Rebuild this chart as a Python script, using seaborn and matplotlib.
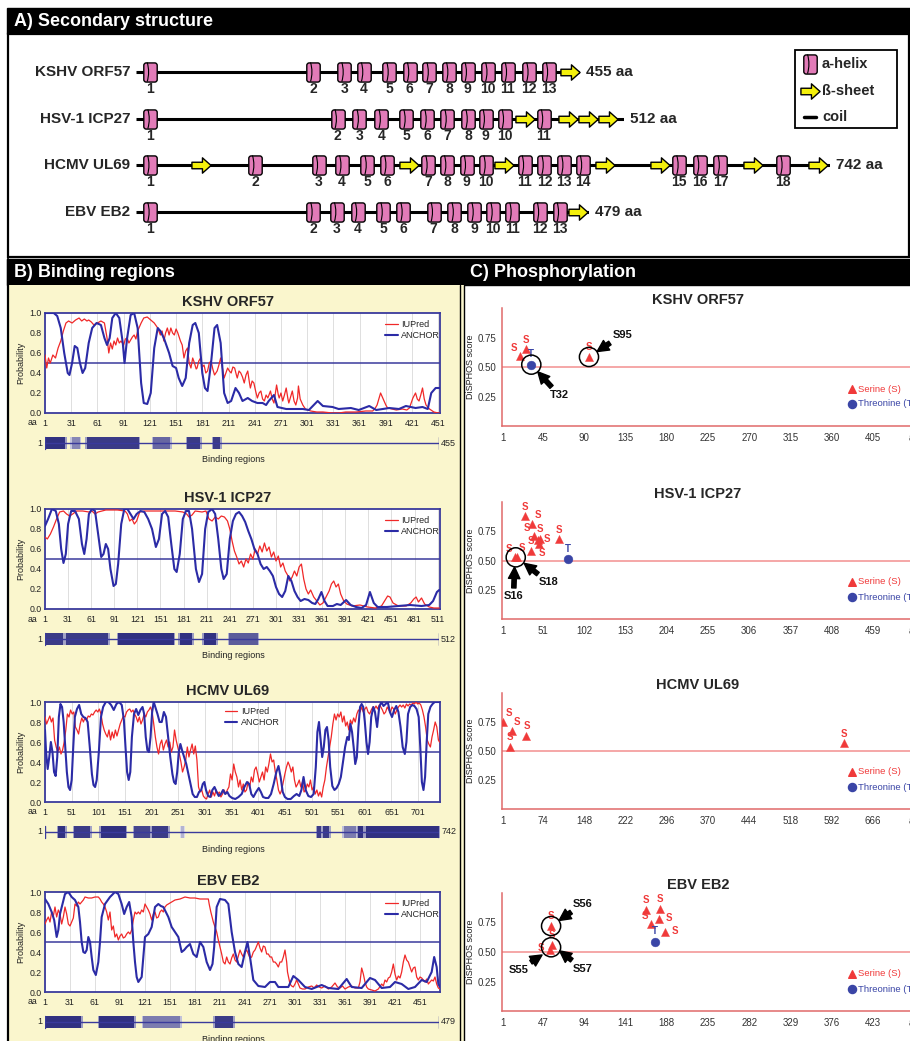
import matplotlib
matplotlib.use("Agg")
import matplotlib.pyplot as plt
import seaborn as sns
from matplotlib.path import Path
from matplotlib.patches import Rectangle

# ---------------------------------------------------------------- data
PROTEINS = ["KSHV ORF57", "HSV-1 ICP27", "HCMV UL69", "EBV EB2"]
LENGTHS = [455, 512, 742, 479]

# secondary structure elements (residue positions)
KSHV_HELICES = [15, 182, 214, 234, 260, 281, 301, 321, 340, 361, 381, 403, 423]
KSHV_SHEETS = [445]
HSV_HELICES = [16, 212, 235, 258, 284, 306, 327, 349, 367, 387, 428]
HSV_SHEETS = [408, 453, 474, 495]
HCMV_HELICES = [16, 128, 196, 221, 248, 269, 313, 333, 354, 375, 416, 437, 458, 478,
                581, 603, 625, 692]
HCMV_SHEETS = [70, 293, 394, 502, 561, 660, 729]
EBV_HELICES = [16, 188, 213, 235, 262, 283, 315, 337, 358, 378, 398, 427, 448]
EBV_SHEETS = [467]

# IUPred / ANCHOR profiles: (residue, probability)
KSHV_IUPRED = [(1,.58),(3,.45),(5,.55),(7,.50),(10,.58),(13,.55),(16,.65),(19,.72),(22,.82),(25,.90),(28,.92),(32,.90),(36,.93),(40,.95),(43,.92),(46,.94),(49,.92),(51,.93),(54,.91),(57,.88),(61,.90),(65,.92),(69,.90),(72,.75),(74,.60),(76,.70),(78,.64),(80,.72),(82,.68),(84,.75),(86,.70),(88,.72),(91,.68),(93,.74),(95,.75),(97,.70),(99,.73),(101,.76),(103,.78),(105,.74),(107,.82),(111,.90),(114,.95),(118,.96),(122,.93),(126,.90),(130,.85),(133,.78),(135,.82),(137,.72),(139,.80),(141,.85),(143,.78),(145,.85),(147,.80),(149,.78),(151,.84),(153,.80),(156,.72),(158,.68),(160,.55),(162,.62),(164,.65),(166,.50),(168,.45),(170,.55),(172,.50),(174,.44),(175,.45),(177,.52),(179,.55),(181,.46),(183,.48),(185,.40),(187,.42),(189,.50),(191,.52),(193,.44),(195,.38),(198,.42),(200,.48),(202,.55),(204,.45),(206,.35),(208,.40),(210,.45),(212,.42),(214,.40),(216,.46),(218,.45),(220,.38),(221,.35),(223,.42),(225,.40),(227,.36),(229,.30),(231,.38),(233,.42),(235,.30),(236,.25),(238,.32),(240,.30),(242,.22),(244,.15),(246,.20),(248,.22),(250,.14),(252,.12),(254,.18),(256,.15),(259,.22),(261,.14),(263,.10),(266,.28),(268,.18),(269,.15),(271,.20),(273,.12),(275,.18),(277,.25),(279,.14),(280,.10),(282,.16),(284,.22),(286,.12),(288,.08),(290,.15),(291,.27),(293,.14),(296,.08),(299,.04),(302,.03),(305,.02),(312,.01),(319,.01),(330,.0),(337,.0),(345,.01),(357,.01),(368,.02),(376,.02),(379,.05),(381,.08),(383,.14),(385,.20),(387,.16),(389,.12),(391,.08),(393,.05),(398,.04),(403,.03),(410,.04),(415,.03),(418,.05),(420,.10),(422,.15),(425,.20),(427,.14),(429,.12),(431,.18),(433,.25),(435,.14),(437,.08),(441,.04),(446,.01),(451,.0),(454,.0)]
KSHV_ANCHOR = [(1,1.0),(11,1.0),(15,.97),(19,.85),(23,.60),(27,.40),(29,.38),(32,.50),(35,.67),(38,.65),(41,.50),(44,.40),(47,.45),(51,.70),(55,.85),(60,.90),(65,.88),(69,.75),(72,.68),(75,.75),(78,.95),(82,1.0),(86,.95),(90,.70),(92,.50),(95,.75),(99,.98),(103,1.0),(107,.85),(111,.30),(114,.10),(118,.09),(122,.20),(126,.65),(130,.85),(133,.82),(137,.75),(143,.60),(147,.47),(151,.45),(154,.35),(158,.27),(162,.35),(166,.70),(170,.88),(173,.90),(177,.80),(181,.40),(184,.25),(187,.22),(191,.50),(195,.85),(198,.88),(202,.70),(206,.20),(210,.10),(214,.12),(219,.25),(223,.20),(227,.12),(233,.15),(238,.12),(244,.10),(250,.10),(254,.08),(257,.12),(263,.18),(267,.06),(277,.04),(296,.04),(303,.03),(313,.12),(319,.07),(330,.06),(337,.04),(351,.05),(360,.03),(372,.07),(380,.03),(395,.05),(406,.04),(414,.07),(425,.05),(433,.06),(439,.04),(443,.20),(448,.25),(454,.25)]

HSV_IUPRED = [(1,.72),(4,.70),(8,.75),(12,.82),(16,.90),(20,.97),(25,.98),(29,.95),(33,.93),(37,.95),(42,.98),(50,.98),(58,.97),(62,.98),(66,.95),(70,.97),(80,.99),(95,.99),(105,.98),(108,.95),(111,.88),(114,.90),(117,.85),(120,.88),(124,.97),(130,.98),(150,.98),(170,.98),(180,.97),(185,.95),(188,.92),(192,.94),(196,.98),(205,.97),(210,.98),(214,.90),(218,.88),(222,.92),(226,.90),(230,.93),(234,.92),(238,.88),(241,.80),(244,.68),(247,.58),(250,.52),(253,.45),(256,.48),(259,.42),(262,.50),(265,.46),(268,.55),(271,.50),(274,.60),(277,.55),(280,.63),(283,.57),(286,.66),(289,.58),(292,.62),(295,.52),(298,.57),(301,.48),(304,.53),(307,.42),(310,.46),(313,.38),(316,.34),(319,.28),(322,.32),(325,.38),(328,.33),(331,.42),(334,.45),(337,.30),(340,.20),(343,.15),(346,.19),(350,.12),(354,.08),(358,.04),(362,.06),(366,.12),(370,.18),(373,.25),(376,.28),(379,.22),(382,.25),(385,.15),(389,.08),(393,.05),(400,.03),(410,.04),(420,.02),(430,.01),(438,.03),(442,.08),(446,.13),(449,.12),(453,.06),(460,.03),(470,.03),(476,.06),(480,.10),(483,.12),(486,.07),(490,.11),(494,.05),(500,.02),(506,.01),(513,.01)]
HSV_ANCHOR = [(1,.83),(5,.90),(10,1.0),(15,.98),(19,.85),(22,.60),(25,.46),(28,.55),(31,.85),(35,.98),(40,.98),(45,.90),(49,.65),(52,.55),(55,.70),(58,.95),(62,1.0),(66,.98),(70,.75),(74,.52),(77,.55),(80,.65),(83,.60),(86,.40),(90,.23),(93,.25),(96,.45),(100,.85),(104,1.0),(108,1.0),(112,.95),(116,.90),(120,.95),(125,.98),(130,.97),(135,.90),(140,.80),(145,.62),(149,.70),(153,.95),(157,.98),(161,.92),(165,.65),(169,.40),(172,.37),(176,.55),(180,.90),(184,.98),(188,.98),(192,.80),(197,.40),(201,.27),(205,.35),(209,.80),(213,.97),(218,1.0),(222,.95),(226,.70),(230,.40),(233,.30),(237,.35),(241,.70),(245,.88),(249,.95),(253,.97),(257,.93),(261,.87),(265,.78),(269,.70),(273,.60),(277,.55),(281,.45),(285,.40),(289,.42),(293,.38),(297,.33),(301,.22),(305,.15),(309,.12),(313,.18),(317,.33),(321,.28),(325,.18),(329,.12),(333,.08),(338,.10),(343,.09),(348,.06),(352,.05),(356,.10),(360,.17),(364,.08),(368,.03),(375,.03),(380,.05),(385,.04),(392,.09),(398,.04),(405,.02),(412,.01),(418,.04),(423,.17),(428,.06),(433,.02),(445,.02),(460,.03),(475,.04),(490,.03),(500,.04),(505,.08),(510,.17),(513,.19)]

HCMV_IUPRED = [(1,.85),(4,.78),(7,.82),(10,.86),(13,.80),(16,.84),(19,.62),(22,.55),(25,.50),(28,.55),(31,.48),(34,.52),(37,.60),(40,.72),(43,.88),(46,.85),(49,.92),(52,.88),(55,.90),(58,.75),(61,.72),(64,.68),(67,.78),(70,.84),(73,.80),(76,.84),(79,.82),(82,.86),(85,.85),(88,.88),(91,.87),(94,.90),(97,.92),(100,.90),(103,.93),(106,.88),(109,.78),(112,.72),(115,.68),(118,.65),(121,.72),(124,.62),(127,.70),(130,.64),(133,.72),(136,.66),(139,.72),(142,.78),(145,.82),(148,.86),(151,.85),(154,.90),(157,.92),(160,.93),(163,.90),(166,.92),(169,.88),(172,.85),(175,.80),(178,.85),(181,.78),(184,.82),(187,.88),(190,.85),(193,.90),(196,.92),(199,.95),(202,.90),(205,.78),(208,.65),(211,.55),(214,.48),(217,.58),(220,.62),(223,.52),(226,.58),(229,.62),(232,.55),(235,.60),(238,.50),(241,.55),(244,.72),(247,.62),(250,.55),(253,.48),(256,.40),(259,.30),(262,.35),(265,.42),(268,.55),(271,.45),(274,.52),(277,.58),(280,.48),(283,.56),(286,.42),(289,.15),(292,.10),(295,.12),(298,.06),(301,.04),(304,.03),(307,.08),(310,.12),(313,.05),(316,.10),(319,.06),(322,.12),(325,.08),(328,.10),(331,.05),(334,.08),(337,.12),(340,.08),(343,.12),(346,.15),(349,.28),(352,.22),(355,.38),(358,.30),(361,.25),(364,.15),(367,.22),(370,.12),(373,.18),(376,.10),(379,.12),(382,.20),(385,.15),(388,.25),(391,.20),(394,.32),(397,.35),(400,.28),(403,.20),(406,.25),(409,.30),(412,.22),(415,.35),(418,.30),(421,.38),(424,.48),(427,.40),(430,.42),(433,.30),(436,.22),(439,.12),(442,.08),(445,.12),(448,.20),(451,.28),(454,.35),(457,.40),(460,.36),(463,.30),(466,.35),(469,.22),(472,.15),(475,.18),(478,.22),(481,.15),(484,.20),(487,.10),(490,.12),(493,.18),(496,.15),(499,.22),(502,.12),(505,.15),(508,.08),(511,.12),(514,.06),(517,.10),(520,.05),(523,.15),(526,.22),(529,.35),(532,.45),(535,.55),(538,.65),(541,.78),(544,.88),(547,.82),(550,.88),(553,.85),(556,.90),(559,.80),(562,.86),(565,.76),(568,.80),(571,.72),(574,.82),(577,.78),(580,.84),(583,.80),(586,.88),(589,.92),(592,.90),(595,.95),(598,.90),(601,.93),(604,.95),(607,.90),(610,.88),(613,.92),(616,.95),(619,.93),(622,.96),(625,.93),(628,.97),(631,.95),(634,.92),(637,.88),(640,.90),(643,.95),(646,.92),(649,.90),(652,.95),(655,.93),(658,.88),(661,.92),(664,.95),(667,.97),(670,.95),(673,.97),(676,.94),(679,.98),(682,.96),(685,.98),(688,.97),(691,.99),(694,.98),(697,1.0),(700,.98),(703,.99),(706,.97),(709,.92),(712,.85),(715,.75),(718,.62),(721,.58),(724,.55),(727,.65),(730,.72),(733,.80),(736,.75),(739,.62),(741,.60)]
HCMV_ANCHOR = [(1,.72),(3,.50),(6,.33),(9,.45),(12,.60),(15,.50),(18,.30),(21,.26),(24,.45),(27,.85),(30,.98),(33,.95),(36,.80),(39,.55),(42,.30),(45,.15),(48,.12),(51,.22),(54,.55),(57,.85),(61,.93),(65,.97),(69,.88),(73,.85),(77,.84),(81,.80),(85,.55),(89,.28),(92,.17),(95,.15),(98,.22),(102,.50),(106,.85),(110,.95),(115,1.0),(120,1.0),(125,.97),(130,.92),(135,.98),(140,1.0),(145,.97),(149,.82),(152,.55),(155,.30),(158,.22),(161,.30),(164,.65),(168,.88),(172,.93),(176,.87),(180,.92),(184,.95),(187,.88),(190,.65),(193,.52),(196,.50),(199,.65),(202,.90),(205,1.0),(208,.95),(212,.88),(216,.80),(220,.80),(224,.90),(228,.85),(232,.65),(236,.45),(240,.28),(243,.20),(246,.18),(249,.30),(252,.50),(255,.58),(258,.52),(262,.45),(266,.38),(270,.28),(274,.18),(278,.08),(282,.05),(286,.05),(290,.10),(294,.12),(297,.18),(300,.20),(303,.12),(307,.06),(311,.05),(315,.12),(319,.15),(323,.10),(327,.06),(331,.08),(335,.12),(339,.08),(343,.10),(347,.06),(352,.04),(358,.03),(364,.05),(370,.08),(375,.15),(380,.20),(384,.18),(388,.08),(392,.05),(397,.10),(402,.14),(406,.10),(410,.05),(415,.04),(420,.04),(425,.08),(430,.18),(435,.30),(439,.36),(443,.25),(447,.10),(451,.05),(456,.03),(462,.03),(468,.06),(473,.08),(478,.06),(482,.12),(486,.25),(490,.12),(495,.06),(500,.05),(505,.08),(509,.35),(512,.70),(515,.80),(518,.62),(521,.45),(524,.55),(527,.72),(530,.75),(533,.62),(536,.35),(540,.16),(544,.12),(548,.14),(552,.18),(556,.25),(560,.40),(564,.55),(568,.65),(571,.62),(574,.78),(577,.70),(580,.55),(583,.38),(586,.45),(589,.75),(592,.95),(595,.98),(598,.95),(601,.80),(604,.60),(607,.48),(610,.60),(613,.85),(617,.95),(620,.90),(624,.75),(628,.95),(632,1.0),(636,.96),(640,.98),(644,1.0),(648,.90),(652,.85),(656,.92),(660,.96),(664,.90),(668,.75),(672,.55),(676,.48),(679,.60),(682,.88),(686,.95),(690,.97),(694,.96),(698,.93),(702,.85),(705,.55),(708,.20),(711,.12),(714,.25),(717,.60),(720,.88),(724,.95),(728,.98),(732,1.0),(742,1.0)]

EBV_IUPRED = [(1,.68),(3,.72),(5,.75),(7,.70),(9,.80),(11,.76),(13,.85),(15,.75),(17,.82),(19,.78),(21,.68),(23,.75),(25,.85),(27,.78),(29,.68),(31,.66),(33,.70),(35,.74),(37,.88),(39,.86),(41,.90),(43,.88),(45,.90),(47,.92),(49,.95),(53,.94),(57,.94),(61,.95),(65,.95),(67,.93),(69,.90),(71,.88),(73,.85),(75,.80),(77,.72),(79,.80),(81,.62),(83,.66),(85,.55),(87,.58),(89,.52),(91,.56),(93,.58),(95,.54),(97,.55),(99,.58),(101,.60),(103,.58),(105,.62),(107,.72),(109,.80),(111,.78),(113,.80),(115,.78),(117,.82),(119,.80),(121,.88),(123,.85),(125,.82),(127,.78),(129,.72),(131,.78),(133,.80),(135,.74),(137,.75),(139,.80),(141,.82),(143,.80),(145,.85),(147,.87),(149,.88),(153,.90),(157,.92),(163,.93),(169,.95),(175,.94),(181,.94),(187,.93),(193,.93),(197,.93),(198,.88),(200,.80),(203,.70),(207,.60),(209,.52),(211,.45),(213,.38),(215,.30),(217,.28),(219,.35),(221,.30),(223,.28),(225,.34),(227,.38),(229,.32),(231,.30),(233,.36),(235,.42),(237,.38),(239,.35),(241,.40),(243,.42),(245,.38),(247,.34),(249,.35),(251,.40),(253,.42),(255,.46),(257,.50),(259,.44),(261,.40),(263,.46),(265,.45),(267,.38),(269,.38),(271,.35),(273,.35),(275,.30),(277,.30),(279,.28),(281,.25),(283,.30),(285,.30),(287,.35),(289,.42),(291,.30),(292,.20),(295,.08),(297,.06),(299,.05),(301,.08),(303,.12),(305,.08),(307,.04),(310,.03),(313,.03),(317,.05),(321,.06),(324,.04),(327,.07),(330,.05),(333,.04),(337,.06),(341,.03),(345,.05),(349,.09),(352,.05),(355,.04),(358,.06),(361,.03),(365,.05),(369,.06),(373,.04),(377,.04),(379,.10),(381,.24),(383,.18),(385,.10),(387,.05),(389,.03),(393,.02),(397,.01),(401,.03),(405,.08),(407,.06),(409,.12),(411,.10),(413,.14),(415,.15),(417,.20),(419,.28),(421,.18),(423,.12),(425,.16),(427,.14),(429,.20),(431,.30),(433,.37),(435,.32),(437,.30),(439,.25),(441,.20),(443,.24),(445,.25),(447,.15),(449,.12),(451,.15),(453,.14),(455,.12),(457,.10),(459,.13),(461,.08),(463,.10),(465,.12),(467,.11),(469,.15),(471,.08),(473,.04),(475,.03)]
EBV_ANCHOR = [(1,.93),(5,.88),(9,.80),(12,.72),(15,.55),(17,.62),(19,.78),(22,.88),(25,.98),(29,1.0),(33,.95),(37,.92),(41,.85),(43,.70),(45,.50),(47,.40),(49,.39),(51,.42),(53,.55),(55,.50),(57,.35),(59,.22),(62,.17),(65,.30),(67,.50),(69,.75),(73,.88),(79,.95),(85,1.0),(89,.98),(93,.88),(96,.78),(99,.85),(102,.90),(105,.75),(107,.50),(109,.30),(111,.15),(113,.10),(117,.15),(119,.35),(121,.55),(125,.58),(129,.65),(133,.85),(137,.88),(140,.86),(143,.85),(146,.80),(149,.75),(153,.65),(157,.60),(161,.55),(165,.40),(168,.42),(171,.45),(175,.48),(179,.38),(183,.35),(187,.50),(191,.45),(195,.30),(199,.22),(202,.28),(204,.45),(207,.85),(211,.93),(217,.92),(221,.88),(225,.60),(229,.40),(233,.28),(237,.25),(241,.40),(244,.50),(247,.35),(251,.12),(257,.06),(265,.05),(271,.10),(277,.10),(281,.05),(293,.05),(299,.16),(305,.12),(313,.05),(321,.03),(333,.07),(341,.04),(353,.03),(363,.13),(369,.05),(381,.04),(391,.14),(397,.12),(405,.04),(415,.05),(421,.10),(429,.08),(437,.03),(445,.05),(453,.12),(459,.10),(465,.20),(468,.35),(471,.25),(473,.08),(475,.05)]

# predicted binding regions: (start, end, density)
KSHV_BINDING = [(1, 24, .95), (32, 41, .55), (49, 109, .9), (126, 145, .7), (165, 180, .9), (195, 203, .9)]
HSV_BINDING = [(1, 24, .9), (28, 83, .9), (96, 168, .95), (176, 192, .95), (207, 223, .95), (240, 277, .75)]
HCMV_BINDING = [(26, 39, .95), (56, 86, .9), (106, 153, .95), (169, 199, .85), (202, 233, .9),
                (257, 262, .35), (513, 520, .9), (524, 535, .9), (563, 585, .6), (590, 600, .95),
                (604, 742, .95)]
EBV_BINDING = [(1, 45, .95), (67, 109, .95), (120, 165, .6), (207, 229, .9)]

# DiSPHOS predictions: (residue, score)
KSHV_SER = [(20, .59), (26, .65), (95, .585)]
KSHV_THR = [(32, .52)]
HSV_SER = [(29, .877), (37.5, .815), (39, .71), (44, .674), (47, .688), (36, .58), (45.5, .645),
           (71, .68), (16, .527), (18, .527)]
HSV_THR = [(82, .51)]
HCMV_SER = [(2.4, .75), (14.4, .535), (17.4, .67), (44, .63), (614, .565)]
HCMV_THR = []
EBV_SER = [(55, .52), (56, .72), (57, .56), (164, .857), (180, .863), (170, .735), (179, .78), (186.5, .67)]
EBV_THR = [(174, .587)]

# highlighted sites
KSHV_SITES = [("T32", 32, .52), ("S95", 95, .585)]
HSV_SITES = [("S16", 16, .527), ("S18", 18, .527)]
HCMV_SITES = []
EBV_SITES = [("S56", 56, .72), ("S55", 55, .52), ("S57", 57, .56)]

# ---------------------------------------------------------------- styling
W, H, DPI = 910, 1041, 100
PINK = "#e27bb8"
SHEET_YELLOW = "#f4f00c"
PANEL_YELLOW = "#faf6cd"
IU_RED = "#f02828"
ANCHOR_BLUE = "#2b2ba6"
FRAME_BLUE = "#3a3a9c"
SER_RED = "#f03a3a"
THR_BLUE = "#3a45a6"
AXIS_RED = "#e06a6a"
LINE_RED = "#f29090"

sns.set_theme(style="white")
plt.rcParams["font.family"] = ["Liberation Sans", "DejaVu Sans"]

fig = plt.figure(figsize=(W / DPI, H / DPI), dpi=DPI)
fig.patch.set_facecolor("white")


def px_axes(x0, y0, x1, y1):
    """Axes placed by pixel box (origin top-left)."""
    return fig.add_axes([x0 / W, 1 - y1 / H, (x1 - x0) / W, (y1 - y0) / H])


# glyphs for secondary-structure elements
_hw, _hh, _r = 0.35, 0.5, 0.13
HELIX = Path(
    [(-_hw + _r, -_hh), (_hw - _r, -_hh), (_hw, -_hh), (_hw, -_hh + _r), (_hw, _hh - _r),
     (_hw, _hh), (_hw - _r, _hh), (-_hw + _r, _hh), (-_hw, _hh), (-_hw, _hh - _r),
     (-_hw, -_hh + _r), (-_hw, -_hh), (-_hw + _r, -_hh), (0, 0)],
    [Path.MOVETO, Path.LINETO, Path.CURVE3, Path.CURVE3, Path.LINETO, Path.CURVE3, Path.CURVE3,
     Path.LINETO, Path.CURVE3, Path.CURVE3, Path.LINETO, Path.CURVE3, Path.CURVE3, Path.CLOSEPOLY])
HELIX_RIM = Path([(-0.13, -0.5), (0.02, 0.0), (-0.13, 0.5)],
                 [Path.MOVETO, Path.CURVE3, Path.CURVE3])
SHEET = Path([(-0.5, -0.17), (0.05, -0.17), (0.05, -0.4), (0.5, 0), (0.05, 0.4), (0.05, 0.17),
              (-0.5, 0.17), (-0.5, -0.17)],
             [Path.MOVETO] + [Path.LINETO] * 6 + [Path.CLOSEPOLY])
GLYPH_S = 190


def draw_helices(ax, xs, ys):
    ax.scatter(xs, ys, marker=HELIX, s=GLYPH_S, facecolor=PINK, edgecolor="black",
               linewidth=1.0, zorder=3, clip_on=False)
    ax.scatter(xs, ys, marker=HELIX_RIM, s=GLYPH_S, facecolor="none", edgecolor="black",
               linewidth=0.8, zorder=4, clip_on=False)


def draw_sheets(ax, xs, ys):
    ax.scatter(xs, ys, marker=SHEET, s=GLYPH_S, facecolor=SHEET_YELLOW, edgecolor="black",
               linewidth=1.0, zorder=3, clip_on=False)


# ---------------------------------------------------------------- frame
canvas = px_axes(0, 0, W, H)
canvas.set_xlim(0, W)
canvas.set_ylim(H, 0)
canvas.axis("off")

canvas.add_patch(Rectangle((7, 8), W - 7, 26, color="black"))
canvas.text(14, 21.5, "A) Secondary structure", color="white", fontsize=13,
            fontweight="bold", va="center")
canvas.add_patch(Rectangle((8, 34), 901, 223, facecolor="white", edgecolor="black", lw=1.6))

canvas.add_patch(Rectangle((7, 259), W - 7, 26, color="black"))
canvas.text(14, 272.5, "B) Binding regions", color="white", fontsize=13,
            fontweight="bold", va="center")
canvas.text(470, 272.5, "C) Phosphorylation", color="white", fontsize=13,
            fontweight="bold", va="center")
canvas.add_patch(Rectangle((8.5, 285), 451, H - 285, facecolor=PANEL_YELLOW, edgecolor="none"))
canvas.add_patch(Rectangle((459.5, 285), 4, H - 285, facecolor=PANEL_YELLOW, edgecolor="none"))
canvas.plot([8, 8], [259, H], color="black", lw=1.6)
canvas.plot([459.5, 459.5], [285, H], color="black", lw=1.0)
canvas.plot([463.5, 463.5], [285, H], color="black", lw=1.0)

# ---------------------------------------------------------------- A) secondary structure
ROW_Y = [72, 119, 165, 212]
ROW_END = [580, 624, 830, 589]
ROW_START = 136
helix_sets = [KSHV_HELICES, HSV_HELICES, HCMV_HELICES, EBV_HELICES]
sheet_sets = [KSHV_SHEETS, HSV_SHEETS, HCMV_SHEETS, EBV_SHEETS]

for name, length, helices, sheets, y, x_end in zip(PROTEINS, LENGTHS, helix_sets, sheet_sets,
                                                     ROW_Y, ROW_END):
    ax = px_axes(ROW_START, y - 22, x_end, y + 22)
    ax.set_xlim(1, length)
    ax.set_ylim(-1, 1)
    ax.axis("off")
    ax.plot([1, length], [0, 0], color="black", lw=2.2, solid_capstyle="butt", zorder=1)
    draw_helices(ax, helices, [0] * len(helices))
    draw_sheets(ax, sheets, [0] * len(sheets))
    for k, a in enumerate(helices, start=1):
        ax.annotate(str(k), (a, 0), xytext=(0, -12.5), textcoords="offset points",
                    ha="center", va="center", fontsize=10, fontweight="bold",
                    annotation_clip=False)
    ax.annotate(name, (1, 0), xytext=(-4, 0), textcoords="offset points", ha="right",
                va="center", fontsize=11, fontweight="bold", annotation_clip=False)
    ax.annotate(f"{length} aa", (length, 0), xytext=(4.5, 0), textcoords="offset points",
                ha="left", va="center", fontsize=11, fontweight="bold", annotation_clip=False)

# legend box
canvas.add_patch(Rectangle((795, 50), 102, 78, facecolor="white", edgecolor="black", lw=1.3))
draw_helices(canvas, [810], [64])
draw_sheets(canvas, [810], [91])
canvas.plot([804, 816], [117, 117], color="black", lw=2.5)
for yy, txt in zip([64, 91, 117], ["a-helix", "ß-sheet", "coil"]):
    canvas.text(822, yy, txt, fontsize=10.5, fontweight="bold", va="center")

# ---------------------------------------------------------------- B) binding regions
iupred_sets = [KSHV_IUPRED, HSV_IUPRED, HCMV_IUPRED, EBV_IUPRED]
anchor_sets = [KSHV_ANCHOR, HSV_ANCHOR, HCMV_ANCHOR, EBV_ANCHOR]
binding_sets = [KSHV_BINDING, HSV_BINDING, HCMV_BINDING, EBV_BINDING]
B_TOP = [313, 509, 702, 892]
B_XMAX = [453, 514, 742, 475]
B_TICKS = [range(1, 452, 30), range(1, 512, 30), range(1, 702, 50), range(1, 452, 30)]
B_LEGEND = [("upper right", (1.0, 0.93)), ("upper right", (1.0, 0.93)),
            ("upper left", (0.455, 0.95)), ("upper right", (1.0, 0.93))]


def mix(shade):
    """Blend navy towards white by density."""
    navy = (0.10, 0.10, 0.45)
    return tuple(1 - shade * (1 - c) for c in navy)


for i, name in enumerate(PROTEINS):
    top = B_TOP[i]
    ax = px_axes(45, top, 440, top + 100)
    ax.set_facecolor("white")
    iu_x, iu_y = zip(*iupred_sets[i])
    an_x, an_y = zip(*anchor_sets[i])
    sns.lineplot(x=list(iu_x), y=list(iu_y), ax=ax, color=IU_RED, linewidth=0.9,
                 label="IUPred", zorder=3)
    sns.lineplot(x=list(an_x), y=list(an_y), ax=ax, color=ANCHOR_BLUE, linewidth=1.5,
                 label="ANCHOR", zorder=4)
    ax.axhline(0.5, color=FRAME_BLUE, lw=1.1, zorder=2)
    ax.set_xlim(1, B_XMAX[i])
    ax.set_ylim(0, 1)
    ax.set_xticks(list(B_TICKS[i]))
    ax.set_xticklabels([str(t) for t in B_TICKS[i]])
    ax.set_yticks([0, .2, .4, .6, .8, 1.0])
    ax.set_yticklabels(["0.0", "0.2", "0.4", "0.6", "0.8", "1.0"])
    ax.grid(axis="x", color="#d9d9d9", lw=0.6, zorder=0)
    ax.grid(axis="y", visible=False)
    for sp in ax.spines.values():
        sp.set_color(FRAME_BLUE)
        sp.set_linewidth(1.3)
        sp.set_visible(True)
    ax.tick_params(axis="x", length=0, pad=4, labelsize=6.3, colors="#222222")
    ax.tick_params(axis="y", length=0, pad=2.5, labelsize=6.3, colors="#222222")
    ax.set_xlabel("")
    ax.set_ylabel("Probability", fontsize=6.5, labelpad=3, color="#222222")
    ax.text(-0.032, -0.055, "aa", transform=ax.transAxes, ha="center", va="top",
            fontsize=6.3, color="#222222")
    loc, anchor = B_LEGEND[i]
    ax.legend(loc=loc, bbox_to_anchor=anchor, frameon=False, fontsize=6.5, handlelength=1.4,
              handletextpad=0.4, labelspacing=0.25, borderaxespad=0.0, borderpad=0.0)
    canvas.text(228, top - 11, name, ha="center", va="center", fontsize=10.5, fontweight="bold")

    # binding-region track
    length = LENGTHS[i]
    bx = px_axes(45, top + 122, 439, top + 138)
    bx.set_xlim(1, length)
    bx.set_ylim(-1, 1)
    bx.axis("off")
    bx.plot([1, length], [0, 0], color=FRAME_BLUE, lw=1.0, zorder=2)
    bx.plot([length, length], [-0.8, 0.8], color=FRAME_BLUE, lw=1.0)
    bx.plot([1, 1], [-0.8, 0.8], color=FRAME_BLUE, lw=1.0)
    pad = length * 0.004
    for s, e, d in binding_sets[i]:
        bx.fill_between([s - pad, e + pad], -0.8, 0.8, color=mix(d * 0.45), lw=0, zorder=1)
        bx.fill_between([s, e], -0.75, 0.75, color=mix(d), lw=0, zorder=1, alpha=0.9)
    bx.annotate("1", (1, 0), xytext=(-2, 0), textcoords="offset points", ha="right",
                va="center", fontsize=6.5, annotation_clip=False)
    bx.annotate(str(length), (length, 0), xytext=(1.5, 0), textcoords="offset points",
                ha="left", va="center", fontsize=6.5, annotation_clip=False)
    canvas.text(233, top + 147, "Binding regions", ha="center", va="center", fontsize=6.5,
                color="#222222")

# ---------------------------------------------------------------- C) phosphorylation
ser_sets = [KSHV_SER, HSV_SER, HCMV_SER, EBV_SER]
thr_sets = [KSHV_THR, HSV_THR, HCMV_THR, EBV_THR]
site_sets = [KSHV_SITES, HSV_SITES, HCMV_SITES, EBV_SITES]
C_TOP = [308, 502, 693, 893]
C_BOTTOM = [426, 619, 809, 1011]
C_STEP = [45, 51, 74, 47]

# letter placement around each marker (points)
OFFS = {"n": (0, 7), "ne": (4, 6.5), "nw": (-4.5, 6), "e": (7, 1), "w": (-7, 1), "s": (2, -7)}
SER_LABEL_POS = [
    ["nw", "n", "n"],
    ["n", "ne", "nw", "e", "n", "n", "s", "n", "nw", "ne"],
    ["ne", "n", "ne", "n", "n"],
    ["w", "n", "n", "n", "n", "nw", "e", "e"],
]
RINGS = [[(32, .52), (95, .585)], [(17, .527)], [], [(56, .72), (56, .54)]]
SITE_OFFSETS = [
    [(20, -22), (24, 16)],
    [(-1, -28), (23, -18)],
    [],
    [(23, 16), (-23, -15), (22, -17)],
]
ARROW = dict(arrowstyle="simple,head_length=0.75,head_width=0.75,tail_width=0.28",
             color="black", shrinkA=0, shrinkB=7, mutation_scale=11)

for i, name in enumerate(PROTEINS):
    step = C_STEP[i]
    top, bottom = C_TOP[i], C_BOTTOM[i]
    ax = px_axes(502, top, 502 + 10.9 * 41.2, bottom)
    ax.patch.set_alpha(0)
    ax.set_xlim(0, 10.9 * step)
    ax.set_ylim(0, 1)
    ax.axhline(0.5, color=LINE_RED, lw=1.1, zorder=1)
    if ser_sets[i]:
        sx, sy = zip(*ser_sets[i])
        sns.scatterplot(x=list(sx), y=list(sy), ax=ax, marker="^", s=34, color=SER_RED,
                        edgecolor=SER_RED, linewidth=0.3, zorder=3)
        for (a, p), pos in zip(ser_sets[i], SER_LABEL_POS[i]):
            ax.annotate("S", (a, p), xytext=OFFS[pos], textcoords="offset points",
                        ha="center", va="center", fontsize=7, fontweight="bold", color=SER_RED)
    if thr_sets[i]:
        tx, ty = zip(*thr_sets[i])
        sns.scatterplot(x=list(tx), y=list(ty), ax=ax, marker="o", s=40, color=THR_BLUE,
                        edgecolor=THR_BLUE, linewidth=0.3, zorder=3)
        for a, p in thr_sets[i]:
            ax.annotate("T", (a, p), xytext=(0, 7.5), textcoords="offset points",
                        ha="center", va="center", fontsize=7, fontweight="bold", color=THR_BLUE)
    for a, p in RINGS[i]:
        ax.scatter([a], [p], s=190, facecolor="none", edgecolor="black", linewidth=1.1, zorder=4)
    for (lab, a, p), off in zip(site_sets[i], SITE_OFFSETS[i]):
        ax.annotate(lab, (a, p), xytext=off, textcoords="offset points", ha="center",
                    va="center", fontsize=8, fontweight="bold", color="#111111",
                    arrowprops=ARROW)

    ticks = [1] + [k * step for k in range(1, 11)]
    ax.set_xticks(ticks)
    ax.set_xticklabels([str(t) for t in ticks[:-1]] + ["aa"])
    ax.set_yticks([.25, .5, .75])
    ax.set_yticklabels(["0.25", "0.50", "0.75"])
    ax.grid(False)
    for side in ("top", "right"):
        ax.spines[side].set_visible(False)
    for side in ("left", "bottom"):
        ax.spines[side].set_color(AXIS_RED)
        ax.spines[side].set_linewidth(1.1)
    ax.tick_params(axis="x", direction="in", length=3, color=AXIS_RED, pad=5,
                   labelsize=7, labelcolor="#333333")
    ax.tick_params(axis="y", direction="out", length=2.5, color=AXIS_RED, pad=1.5,
                   labelsize=7, labelcolor="#333333")
    ax.set_xlabel("")
    ax.set_ylabel("DiSPHOS score", fontsize=6.5, labelpad=2, color="#222222")
    canvas.text(698, top - 8, name, ha="center", va="center", fontsize=10.5, fontweight="bold")

    # key
    canvas.scatter([852], [bottom - 37], marker="^", s=30, color=SER_RED, zorder=5)
    canvas.scatter([852], [bottom - 22], marker="o", s=34, color=THR_BLUE, zorder=5)
    canvas.text(858, bottom - 37, "Serine (S)", color=SER_RED, fontsize=6.8, va="center")
    canvas.text(858, bottom - 22, "Threonine (T)", color=THR_BLUE, fontsize=6.8, va="center")

fig.savefig("out.png", dpi=DPI, facecolor="white")
